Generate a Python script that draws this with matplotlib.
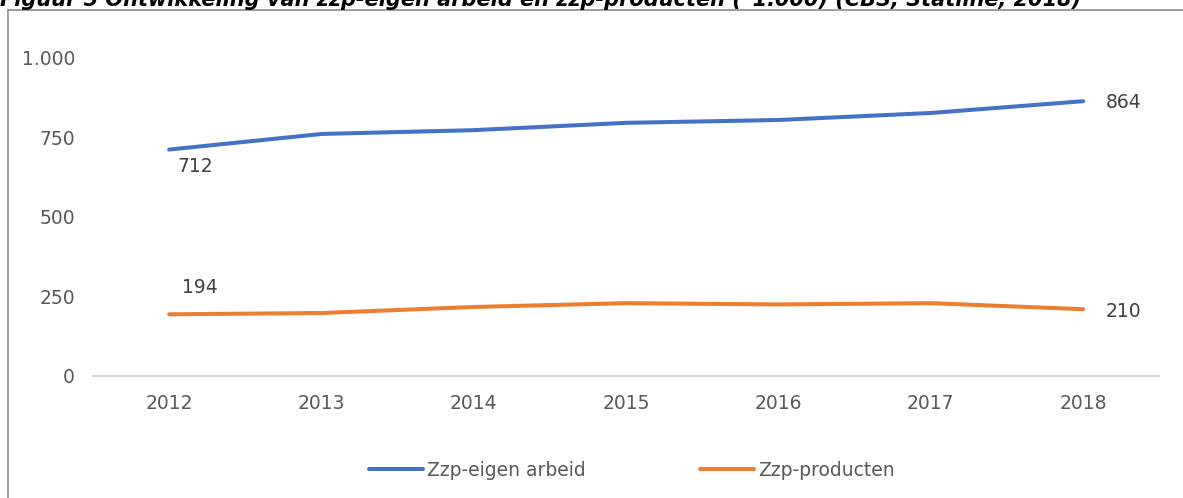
import numpy as np
import matplotlib
matplotlib.use('Agg')
import matplotlib.pyplot as plt
from matplotlib.lines import Line2D

# data (x 1.000)
years = [2012, 2013, 2014, 2015, 2016, 2017, 2018]
eigen_arbeid = [712, 761, 773, 796, 805, 827, 864]
producten = [194, 198, 217, 229, 225, 229, 210]
yticks = [0, 250, 500, 750, 1000]
ytick_labels = ['0', '250', '500', '750', '1.000']

blue = '#4472C4'
orange = '#ED7D31'
grey_txt = '#595959'

plt.rcParams['font.family'] = ['DejaVu Sans']

fig = plt.figure(figsize=(11.83, 4.98), dpi=100)
ax = fig.add_axes([0.0786, 0.245, 0.9014, 0.6386])

ax.plot(years, eigen_arbeid, color=blue, lw=2.9, solid_capstyle='round', label='Zzp-eigen arbeid')
ax.plot(years, producten, color=orange, lw=2.9, solid_capstyle='round', label='Zzp-producten')

# data labels at first and last point
ax.annotate(str(eigen_arbeid[0]), (years[0], eigen_arbeid[0]), xytext=(6, -12),
            textcoords='offset points', ha='left', va='center', fontsize=13.5, color='#404040')
ax.annotate(str(eigen_arbeid[-1]), (years[-1], eigen_arbeid[-1]), xytext=(16, -1),
            textcoords='offset points', ha='left', va='center', fontsize=13.5, color='#404040')
ax.annotate(str(producten[0]), (years[0], producten[0]), xytext=(9, 19),
            textcoords='offset points', ha='left', va='center', fontsize=13.5, color='#404040')
ax.annotate(str(producten[-1]), (years[-1], producten[-1]), xytext=(16, -1.5),
            textcoords='offset points', ha='left', va='center', fontsize=13.5, color='#404040')

ax.set_xlim(2011.5, 2018.5)
ax.set_ylim(0, 1000)
ax.set_xticks(years)
ax.set_xticklabels([str(y) for y in years])
ax.set_yticks(yticks)
ax.set_yticklabels(ytick_labels)
ax.tick_params(axis='both', length=0, labelsize=13.5, labelcolor=grey_txt)
ax.tick_params(axis='y', pad=13)
ax.tick_params(axis='x', pad=13)
for s in ['top', 'right', 'left']:
    ax.spines[s].set_visible(False)
ax.spines['bottom'].set_color('#D9D9D9')
ax.spines['bottom'].set_linewidth(1.5)

leg = fig.legend(loc='center', bbox_to_anchor=(0.534, 0.056), ncol=2, frameon=False,
                 fontsize=13.5, handlelength=2.9, handletextpad=0.2, columnspacing=6.1)
for t in leg.get_texts():
    t.set_color(grey_txt)

# outer frame (partly cut off)
fig.add_artist(Line2D([8 / 1183, 8 / 1183], [0, 1 - 10 / 498], transform=fig.transFigure,
                      color='#8c8c8c', lw=1.2))
fig.add_artist(Line2D([8 / 1183, 1], [1 - 10 / 498, 1 - 10 / 498], transform=fig.transFigure,
                      color='#8c8c8c', lw=1.2))

# caption, clipped at the top edge
fig.text(0.0, 1 - 6 / 498, 'Figuur 5 Ontwikkeling van zzp-eigen arbeid en zzp-producten (*1.000) (CBS, Statline, 2018)',
         ha='left', va='baseline', fontsize=15, style='italic', weight='bold', color='black')

fig.savefig('out.png', dpi=100)
